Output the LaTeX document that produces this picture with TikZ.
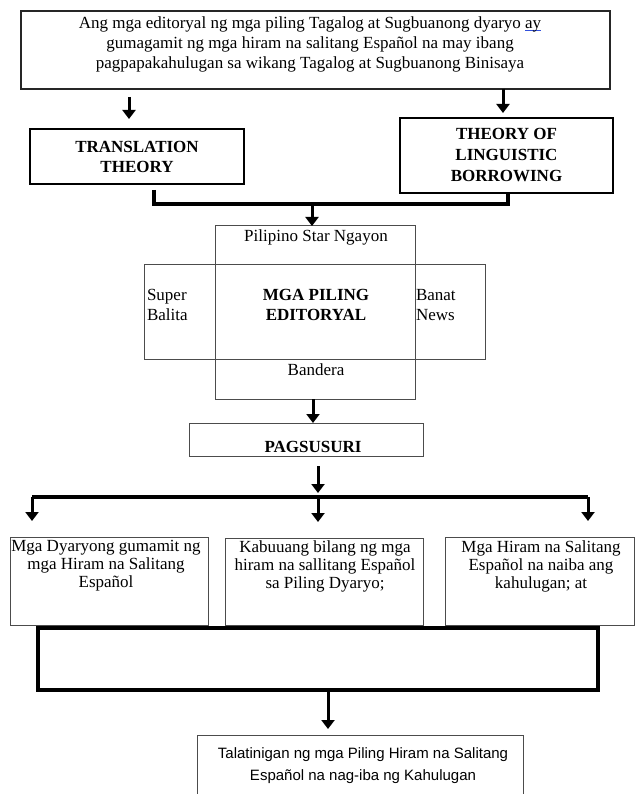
\documentclass[tikz,border=0pt]{standalone}
\usepackage{fontspec}
\setmainfont{Liberation Serif}
\setsansfont{Liberation Sans}
\usetikzlibrary{arrows.meta}
\definecolor{spellblue}{RGB}{50,80,220}
\newcommand{\spellmark}[1]{\setbox0\hbox{#1}\rlap{\textcolor{spellblue}{\rule[-2.5pt]{\wd0}{0.9pt}}}#1}
\begin{document}
\begin{tikzpicture}[x=1pt, y=-1pt, line join=miter,
    every node/.style={inner sep=0pt, outer sep=0pt},
    txt/.style={font=\fontsize{17}{20}\selectfont, align=center},
    boldtxt/.style={font=\fontsize{17}{20}\selectfont\bfseries, align=center},
    tighttxt/.style={font=\fontsize{17}{18}\selectfont, align=center},
    thinbox/.style={draw=black!70, line width=1pt},
    thickbox/.style={draw=black, line width=2pt},
    arr/.style={line width=3pt, -{Triangle[width=13pt,length=9pt]}},
    bar/.style={line width=4pt}]
    \path[use as bounding box, fill=white] (0,0) rectangle (635,794);
    \node[thickbox, draw=black!85, line width=2.6pt, minimum width=589pt, minimum height=78pt] (claim) at (315.5,50) {};
    \node[txt] (claimtext) at (310,44) {Ang mga editoryal ng mga piling Tagalog at Sugbuanong dyaryo \spellmark{ay}\\
        gumagamit ng mga hiram na salitang Español na may ibang\\
        pagpapakahulugan sa wikang Tagalog at Sugbuanong Binisaya};
    \node[thickbox, boldtxt, minimum width=214pt, minimum height=55pt] (transl) at (137,156.5) {TRANSLATION\\THEORY};
    \node[thickbox, boldtxt, font=\fontsize{17}{21}\selectfont\bfseries, minimum width=213pt, minimum height=75pt] (theory) at (506.5,155.5) {THEORY OF\\LINGUISTIC\\BORROWING};
    \draw[arr, shorten <=8pt, shorten >=10pt] ([xshift=-8pt]transl.north |- claim.south) -- ([xshift=-8pt]transl.north);
    \draw[arr, shorten >=5pt] ([xshift=-3.5pt]theory.north |- claim.south) -- ([xshift=-3.5pt]theory.north);
    \node[thinbox, minimum width=200pt, minimum height=173pt] (pstar) at (315,312.5) {};
    \node[thinbox, minimum width=341pt, minimum height=95pt] (wide) at (314.5,311.5) {};
    \node[txt] (pstartext) at (316,237) {Pilipino Star Ngayon};
    \node[boldtxt] (editoryal) at (316,305) {MGA PILING\\EDITORYAL};
    \node[txt, align=left, anchor=west] (superbalita) at (147,305) {Super\\Balita};
    \node[txt, align=left, anchor=west] (banatnews) at (416,305) {Banat\\News};
    \node[txt] (bandera) at (316,370) {Bandera};
    \coordinate (jn) at (312,204);
    \draw[bar] ([xshift=17pt,yshift=-6pt]transl.south) |- (jn) -| ([xshift=1.5pt]theory.south);
    \draw[arr] (jn) -- (jn |- pstar.north);
    \node[thinbox, minimum width=234pt, minimum height=33pt] (pagsusuri) at (306,439.5) {};
    \node[boldtxt] (pagtext) at (313,447) {PAGSUSURI};
    \draw[arr] ([xshift=-2pt]pstar.south) -- ([xshift=-2pt]pstar.south |- pagsusuri.north);
    \coordinate (split) at (318,497);
    \coordinate (bl) at (32,497);
    \coordinate (br) at (588,497);
    \draw[arr, shorten <=10pt, shorten >=4pt] (split |- pagsusuri.south) -- (split);
    \draw[bar] (bl) -- (br);
    \node[thinbox, minimum width=198pt, minimum height=88pt] (dyaryo) at (109,581) {};
    \node[thinbox, minimum width=198pt, minimum height=87pt] (kabuuan) at (324,581.5) {};
    \node[thinbox, minimum width=189pt, minimum height=88pt] (naiba) at (539.5,581) {};
    \node[tighttxt] (dyaryotext) at (106,566) {Mga Dyaryong gumamit ng\\mga Hiram na Salitang\\Español};
    \node[tighttxt] (kabuuantext) at (325,566) {Kabuuang bilang ng mga\\hiram na sallitang Español\\sa Piling Dyaryo;};
    \node[tighttxt] (naibatext) at (541,566) {Mga Hiram na Salitang\\Español na naiba ang\\kahulugan; at};
    \draw[arr, shorten >=16pt] (bl) -- (bl |- dyaryo.north);
    \draw[arr, shorten >=16pt] (split) -- (split |- kabuuan.north);
    \draw[arr, shorten >=16pt] (br) -- (br |- naiba.north);
    \node[draw=black, line width=4pt, minimum width=560pt, minimum height=62pt] (frame) at (318,659) {};
    \node[thinbox, minimum width=326pt, minimum height=80pt] (talatinigan) at (360,775) {};
    \node[align=center, font=\sffamily\fontsize{15}{22}\selectfont] (talatext) at (363,766) {Talatinigan ng mga Piling Hiram na Salitang\\Español na nag-iba ng Kahulugan};
    \draw[arr, shorten >=6pt] ([xshift=10pt]frame.south) -- ([xshift=10pt]frame.south |- talatinigan.north);
\end{tikzpicture}
\end{document}
